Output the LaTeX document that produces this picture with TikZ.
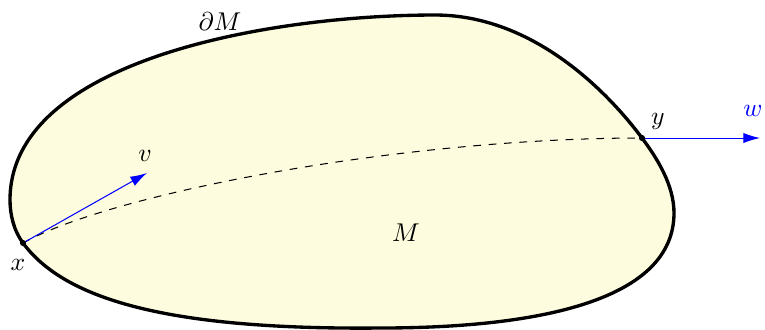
\documentclass[tikz,border=0pt]{standalone}
\usetikzlibrary{arrows.meta}
\definecolor{regionfill}{RGB}{253,252,222}
\begin{document}
\begin{tikzpicture}[x=0.389pt,y=-0.389pt,
  boundary/.style={line width=1.3pt,fill=regionfill,line join=round},
  vec/.style={blue,-{Latex[length=6.5pt,width=4pt]},line width=0.4pt},
  ptdot/.style={circle,fill=black,inner sep=0pt,minimum size=2.4pt},
  lbl/.style={inner sep=1pt}]
\useasboundingbox (0,0) rectangle (765,329);
\coordinate (x) at (23,243);
\coordinate (y) at (642,138);
\coordinate (vend) at (147,173);
\coordinate (wend) at (760,138);
\draw[boundary] (x)
  .. controls (65,300) and (170,330) .. (380,328)
  .. controls (540,328) and (674,300) .. (674,213)
  .. controls (674,185) and (657,158) .. (y)
  .. controls (610,95) and (535,15) .. (435,15)
  .. controls (270,15) and (10,60) .. (10,200)
  .. controls (10,215) and (14,231) .. (x) -- cycle;
\draw[dashed,line width=0.4pt] (x) .. controls (110,194) and (400,138) .. (y);
\draw[vec] (x) -- (vend);
\draw[vec] (y) -- (wend);
\node[ptdot] at (x) {};
\node[ptdot] at (y) {};
\node[lbl] (xl) at (18,265) {$x$};
\node[lbl] (yl) at (658,121) {$y$};
\node[lbl] (vl) at (145,156) {$v$};
\node[lbl,text=blue] (wl) at (753,111) {$w$};
\node[lbl] (dM) at (220,22) {$\partial M$};
\node[lbl] (M) at (406,233) {$M$};
\end{tikzpicture}
\end{document}
